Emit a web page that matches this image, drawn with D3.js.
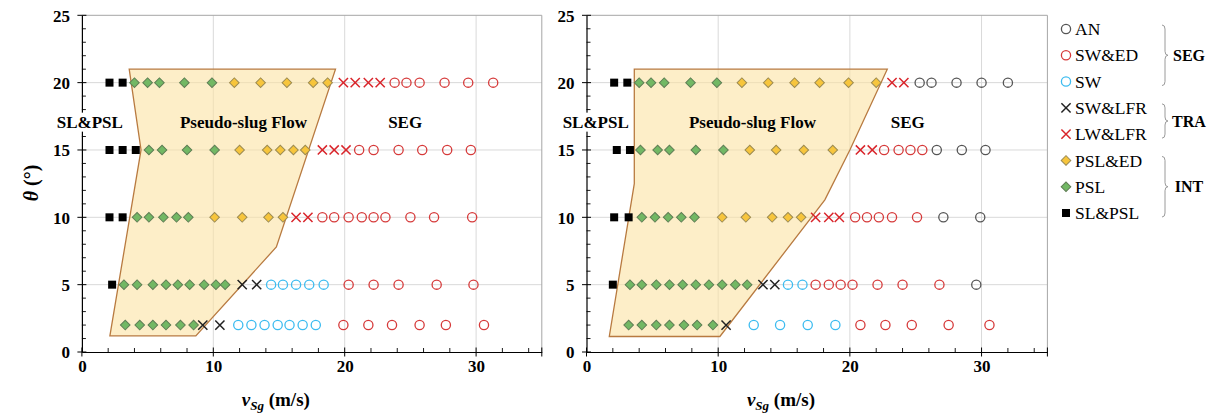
<!DOCTYPE html>
<html>
<head>
<meta charset="utf-8">
<script src="https://cdn.jsdelivr.net/npm/d3@7"></script>
<style>
  html, body { margin: 0; padding: 0; background: #fff; }
  svg text { font-family: "Liberation Serif", "Times New Roman", serif; }
</style>
</head>
<body>
<svg id="chart" width="1215" height="417"></svg>
<script>
// Inclination angles (deg) of each measured row, top to bottom
const angles = [20, 15, 10, 5, 2];

// Left panel: superficial gas velocity (m/s) of each observed regime, one list per angle
const leftSLPSL = [[2.1, 3.1], [2.1, 3.1, 4.1], [2.1, 3.1], [2.3], []];
const leftPSL   = [[4.0, 5.0, 5.9, 7.8, 9.9], [5.1, 6.1, 8.0, 10.1], [4.2, 5.1, 6.2, 7.2, 8.1],
                   [3.2, 4.2, 5.4, 6.4, 7.3, 8.2, 9.3, 10.2, 10.9], [3.3, 4.4, 5.4, 6.4, 7.5, 8.5]];
const leftPSLED = [[11.6, 13.6, 15.6, 17.6, 18.7], [12.0, 14.1, 15.1, 16.1, 17.0], [10.1, 12.2, 14.2, 15.3], [], []];
const leftLWLFR = [[19.9, 20.8, 21.8, 22.7], [18.3, 19.2, 20.1], [16.3, 17.2], [], []];
const leftSWLFR = [[], [], [], [12.2, 13.3], [9.2, 10.5]];
const leftSW    = [[], [], [], [14.4, 15.3, 16.3, 17.3, 18.4], [11.9, 12.9, 13.9, 14.9, 15.8, 16.8, 17.8]];
const leftSWED  = [[23.8, 24.7, 25.7, 27.6, 29.4, 31.3], [21.1, 22.2, 24.1, 25.9, 27.8, 29.6],
                   [18.3, 19.2, 20.3, 21.3, 22.2, 23.1, 25.0, 26.8, 29.7],
                   [20.3, 22.2, 24.1, 27.0, 29.8], [19.9, 21.8, 23.6, 25.7, 27.7, 30.6]];
const leftAN    = [[], [], [], [], []];

// Right panel
const rightSLPSL = [[2.1, 3.1], [2.3, 3.3], [2.1, 3.2], [2.0], []];
const rightPSL   = [[4.0, 4.9, 5.9, 7.9, 9.9], [4.1, 5.4, 6.3, 8.3, 10.4], [4.2, 5.2, 6.2, 7.2, 8.2],
                    [3.3, 4.2, 5.3, 6.3, 7.3, 8.3, 9.3, 10.3, 11.3, 12.2], [3.2, 4.2, 5.3, 6.3, 7.4, 8.4, 9.6]];
const rightPSLED = [[11.8, 13.8, 15.8, 17.7, 19.9, 22.0], [12.4, 14.4, 16.5, 18.7], [10.3, 12.1, 14.1, 15.3, 16.3], [], []];
const rightLWLFR = [[23.2, 24.1], [20.8, 21.7], [17.4, 18.4, 19.2], [], []];
const rightSWLFR = [[], [], [], [13.4, 14.3], [10.6]];
const rightSW    = [[], [], [], [15.3, 16.4], [12.7, 14.7, 16.8, 18.9]];
const rightSWED  = [[], [22.6, 23.7, 24.6, 25.5], [20.4, 21.3, 22.2, 23.2, 25.1],
                    [17.4, 18.4, 19.3, 20.2, 22.1, 24.0, 26.8], [20.8, 22.7, 24.7, 27.5, 30.6]];
const rightAN    = [[25.3, 26.2, 28.1, 30.0, 32.0], [26.6, 28.5, 30.3], [27.1, 29.9], [29.6], []];

// Pseudo-slug flow region outlines, [v, theta]
const leftRegion  = [[2.13, 1.2], [4.5, 15.0], [3.6, 21.0], [19.3, 21.0], [14.8, 7.8], [8.67, 1.2]];
const rightRegion = [[1.73, 1.15], [3.63, 12.5], [3.63, 21.0], [22.84, 21.0], [20.0, 15.0], [18.1, 11.3], [10.13, 1.15]];

// Axis ticks
const xTicks = [0, 10, 20, 30];
const yTicks = [0, 5, 10, 15, 20, 25];
const xDomain = [0, 35];
const yDomain = [0, 25];

// Legend entries and groupings
const legendKeys  = ["AN", "SW&ED", "SW", "SW&LFR", "LW&LFR", "PSL&ED", "PSL", "SL&PSL"];
const legendGroups = [["SEG", 0, 2], ["TRA", 3, 4], ["INT", 5, 7]];

const styles = {
  "AN":     { shape: "circle",  stroke: "#555555" },
  "SW&ED":  { shape: "circle",  stroke: "#d63a3a" },
  "SW":     { shape: "circle",  stroke: "#3dbcf0" },
  "SW&LFR": { shape: "cross",   stroke: "#222222" },
  "LW&LFR": { shape: "cross",   stroke: "#d9252b" },
  "PSL&ED": { shape: "diamond", fill: "#f7c53c", stroke: "#9c8b52" },
  "PSL":    { shape: "diamond", fill: "#72b864", stroke: "#5f7e55" },
  "SL&PSL": { shape: "square",  fill: "#000000", stroke: "#000000" }
};

const svg = d3.select("#chart");

function drawMarker(g, key, x, y) {
  const s = styles[key];
  if (s.shape === "circle") {
    g.append("circle").attr("cx", x).attr("cy", y).attr("r", 4.6)
      .attr("fill", "none").attr("stroke", s.stroke).attr("stroke-width", 1.3);
  } else if (s.shape === "cross") {
    const h = 4.6;
    g.append("path")
      .attr("d", `M${x - h},${y - h}L${x + h},${y + h}M${x - h},${y + h}L${x + h},${y - h}`)
      .attr("stroke", s.stroke).attr("stroke-width", 1.5).attr("fill", "none");
  } else if (s.shape === "diamond") {
    g.append("path").attr("d", d3.symbol(d3.symbolSquare, 46)())
      .attr("transform", `translate(${x},${y}) rotate(45)`)
      .attr("fill", s.fill).attr("stroke", s.stroke).attr("stroke-width", 1);
  } else {
    g.append("path").attr("d", d3.symbol(d3.symbolSquare, 64)())
      .attr("transform", `translate(${x},${y})`)
      .attr("fill", s.fill);
  }
}

function drawPanel(opts) {
  const { x0, x1, series, region, labels } = opts;
  const x = d3.scaleLinear().domain(xDomain).range([x0, x1]);
  const y = d3.scaleLinear().domain(yDomain).range([352, 15.3]);
  const g = svg.append("g");

  // grid
  g.selectAll(".gx").data(xTicks.filter(t => t > 0)).join("line")
    .attr("x1", d => x(d)).attr("x2", d => x(d)).attr("y1", y(0)).attr("y2", y(25))
    .attr("stroke", "#d9d9d9").attr("stroke-width", 1);
  g.selectAll(".gy").data(yTicks.filter(t => t > 0 && t < 25)).join("line")
    .attr("x1", x(0)).attr("x2", x(35)).attr("y1", d => y(d)).attr("y2", d => y(d))
    .attr("stroke", "#d9d9d9").attr("stroke-width", 1);
  // frame top/right
  g.append("path").attr("d", `M${x(0)},${y(25)}H${x(35)}V${y(0)}`)
    .attr("fill", "none").attr("stroke", "#a6a6a6").attr("stroke-width", 1);

  // pseudo-slug region
  g.append("path")
    .attr("d", d3.line().x(d => x(d[0])).y(d => y(d[1]))(region) + "Z")
    .attr("fill", "#fbe2a4").attr("fill-opacity", 0.6)
    .attr("stroke", "#b87a40").attr("stroke-width", 1.3);

  // axes
  const xAxis = d3.axisBottom(x).tickValues(xTicks).tickSize(0).tickFormat(d3.format("d"));
  const yAxis = d3.axisLeft(y).tickValues(yTicks).tickSize(0).tickFormat(d3.format("d"));
  const xa = g.append("g").attr("transform", `translate(0,${y(0)})`).call(xAxis);
  const ya = g.append("g").attr("transform", `translate(${x(0)},0)`).call(yAxis);
  [xa, ya].forEach(a => {
    a.select(".domain").attr("stroke", "#000").attr("stroke-width", 1.2);
    a.selectAll("text").attr("font-family", "Liberation Serif, serif")
      .attr("font-size", 17).attr("font-weight", "bold").attr("fill", "#000");
  });
  xa.selectAll("text").attr("dy", null).attr("y", 20);
  ya.selectAll("text").attr("x", -12).attr("dy", "0.35em");

  // minor ticks (inside) and major ticks (crossing)
  const xMinor = d3.range(0, 35.01, 2).filter(v => xTicks.indexOf(v) < 0);
  g.selectAll(".xm").data(xMinor).join("line")
    .attr("x1", d => x(d)).attr("x2", d => x(d)).attr("y1", y(0)).attr("y2", y(0) - 4)
    .attr("stroke", "#000").attr("stroke-width", 0.9);
  g.selectAll(".xM").data(xTicks.concat([35])).join("line")
    .attr("x1", d => x(d)).attr("x2", d => x(d)).attr("y1", y(0) - 4.5).attr("y2", y(0) + 4.5)
    .attr("stroke", "#000").attr("stroke-width", 1);
  const yMinor = d3.range(0, 25.01, 1).filter(v => yTicks.indexOf(v) < 0);
  g.selectAll(".ym").data(yMinor).join("line")
    .attr("x1", x(0)).attr("x2", x(0) + 4).attr("y1", d => y(d)).attr("y2", d => y(d))
    .attr("stroke", "#000").attr("stroke-width", 0.9);
  g.selectAll(".yM").data(yTicks).join("line")
    .attr("x1", x(0) - 4.5).attr("x2", x(0) + 4.5).attr("y1", d => y(d)).attr("y2", d => y(d))
    .attr("stroke", "#000").attr("stroke-width", 1);

  // region labels
  labels.forEach(([txt, v, th, boxed]) => {
    const t = g.append("text").attr("x", x(v)).attr("y", y(th)).attr("dy", "0.35em")
      .attr("text-anchor", "middle").attr("font-size", 17).attr("font-weight", "bold")
      .text(txt);
    if (boxed) {
      const b = t.node().getBBox();
      g.insert("rect", () => t.node())
        .attr("x", b.x - 1).attr("y", b.y).attr("width", b.width + 2).attr("height", b.height)
        .attr("fill", "#fff");
    }
  });

  // markers
  const mg = g.append("g");
  Object.keys(series).forEach(key => {
    series[key].forEach((row, i) => {
      row.forEach(v => drawMarker(mg, key, x(v), y(angles[i])));
    });
  });

  // axis titles
  const xt = g.append("text").attr("x", (x0 + x1) / 2 - 36).attr("y", 406)
    .attr("text-anchor", "middle").attr("font-size", 19).attr("font-weight", "bold");
  xt.append("tspan").attr("font-style", "italic").text("v");
  xt.append("tspan").attr("font-style", "italic").attr("font-size", 13).attr("dy", 4).text("Sg");
  xt.append("tspan").attr("dy", -4).text(" (m/s)");
}

drawPanel({
  x0: 81.9, x1: 541.8,
  series: { "SL&PSL": leftSLPSL, "PSL": leftPSL, "PSL&ED": leftPSLED, "LW&LFR": leftLWLFR,
            "SW&LFR": leftSWLFR, "SW": leftSW, "SW&ED": leftSWED, "AN": leftAN },
  region: leftRegion,
  labels: [["SL&PSL", 0.6, 17.1, true], ["Pseudo-slug Flow", 12.3, 17.1, false], ["SEG", 24.6, 17.1, false]]
});
drawPanel({
  x0: 586.5, x1: 1047.4,
  series: { "SL&PSL": rightSLPSL, "PSL": rightPSL, "PSL&ED": rightPSLED, "LW&LFR": rightLWLFR,
            "SW&LFR": rightSWLFR, "SW": rightSW, "SW&ED": rightSWED, "AN": rightAN },
  region: rightRegion,
  labels: [["SL&PSL", 0.7, 17.1, true], ["Pseudo-slug Flow", 12.6, 17.1, false], ["SEG", 24.4, 17.1, false]]
});

// y axis title
const yt = svg.append("text").attr("transform", "translate(38,183) rotate(-90)")
  .attr("text-anchor", "middle").attr("font-size", 20).attr("font-weight", "bold");
yt.append("tspan").attr("font-style", "italic").text("θ");
yt.append("tspan").text(" (°)");

// legend
const legendY = d3.scalePoint().domain(legendKeys).range([29, 213]);
const lg = svg.append("g");
legendKeys.forEach(k => {
  drawMarker(lg, k, 1066, legendY(k));
  lg.append("text").attr("x", 1075).attr("y", legendY(k)).attr("dy", "0.35em")
    .attr("font-size", 17.5).text(k);
});
legendGroups.forEach(([name, a, b]) => {
  const y1 = legendY(legendKeys[a]) - 4, y2 = legendY(legendKeys[b]) + 4;
  const ym = (y1 + y2) / 2, xb = 1162, w = 3, r = 4;
  lg.append("path")
    .attr("d", `M${xb},${y1}Q${xb + w},${y1} ${xb + w},${y1 + r}L${xb + w},${ym - r}` +
               `Q${xb + w},${ym} ${xb + 2 * w},${ym}Q${xb + w},${ym} ${xb + w},${ym + r}` +
               `L${xb + w},${y2 - r}Q${xb + w},${y2} ${xb},${y2}`)
    .attr("fill", "none").attr("stroke", "#9a9a9a").attr("stroke-width", 1);
  lg.append("text").attr("x", 1189).attr("y", ym).attr("dy", "0.35em")
    .attr("text-anchor", "middle").attr("font-size", 16).attr("font-weight", "bold").text(name);
});
</script>
</body>
</html>
